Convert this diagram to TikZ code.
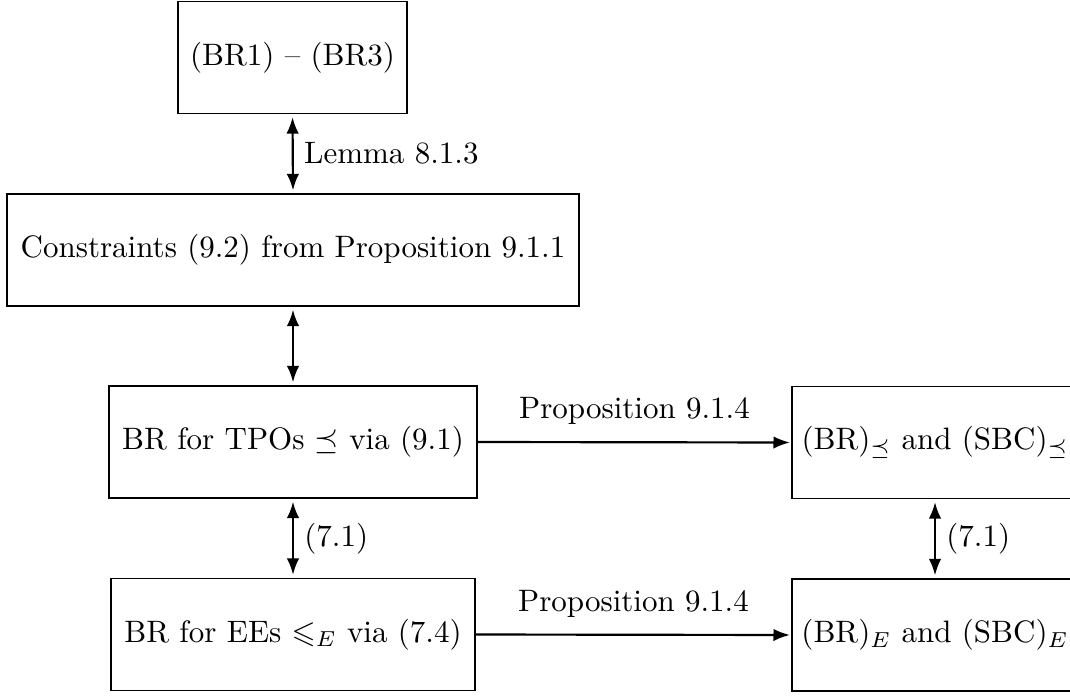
\documentclass[tikz,border=0pt]{standalone}
\usepackage{amsmath,amssymb}
\usetikzlibrary{arrows.meta}
\begin{document}
\begin{tikzpicture}[x=0.3226pt,y=-0.3226pt,
  box/.style={draw,line width=0.35pt,rectangle,inner sep=0pt,minimum height={112*0.3226pt}},
  tip/.tip={Latex[length=5.3pt,width=4pt]},
  biarrow/.style={tip-tip,line width=0.7pt,shorten <=1pt,shorten >=1pt},
  onearrow/.style={-tip,line width=0.7pt,shorten >=0.5pt}]
  \useasboundingbox (0,0) rectangle (1070,697);
  % left column
  \node[box,minimum width={229*0.3226pt}] (br) at (292.5,57.5) {(BR1) -- (BR3)};
  \node[box,minimum width={572*0.3226pt}] (con) at (293,250) {Constraints (9.2) from Proposition 9.1.1};
  \node[box,minimum width={368*0.3226pt}] (tpo) at (293,442) {BR for TPOs $\preceq$ via (9.1)};
  \node[box,minimum width={364*0.3226pt}] (ee) at (293,634.5) {BR for EEs $\leqslant_E$ via (7.4)};
  % right column
  \node[box,minimum width={286*0.3226pt}] (rtpo) at (935,442.5) {(BR)$_{\preceq}$ and (SBC)$_{\preceq}$};
  \node[box,minimum width={286*0.3226pt}] (ree) at (935,635) {(BR)$_E$ and (SBC)$_E$};
  % connectors
  \draw[biarrow] (br.south) -- node[right] {Lemma 8.1.3} (con.north);
  \draw[biarrow] (con.south) -- (tpo.north);
  \draw[biarrow] (tpo.south) -- node[right] {(7.1)} (ee.north);
  \draw[biarrow] (rtpo.south) -- node[right] {(7.1)} (ree.north);
  \draw[onearrow] (tpo.east) -- node[above=2pt] {Proposition 9.1.4} (rtpo.west);
  \draw[onearrow] (ee.east) -- node[above=2pt] {Proposition 9.1.4} (ree.west);
\end{tikzpicture}
\end{document}
